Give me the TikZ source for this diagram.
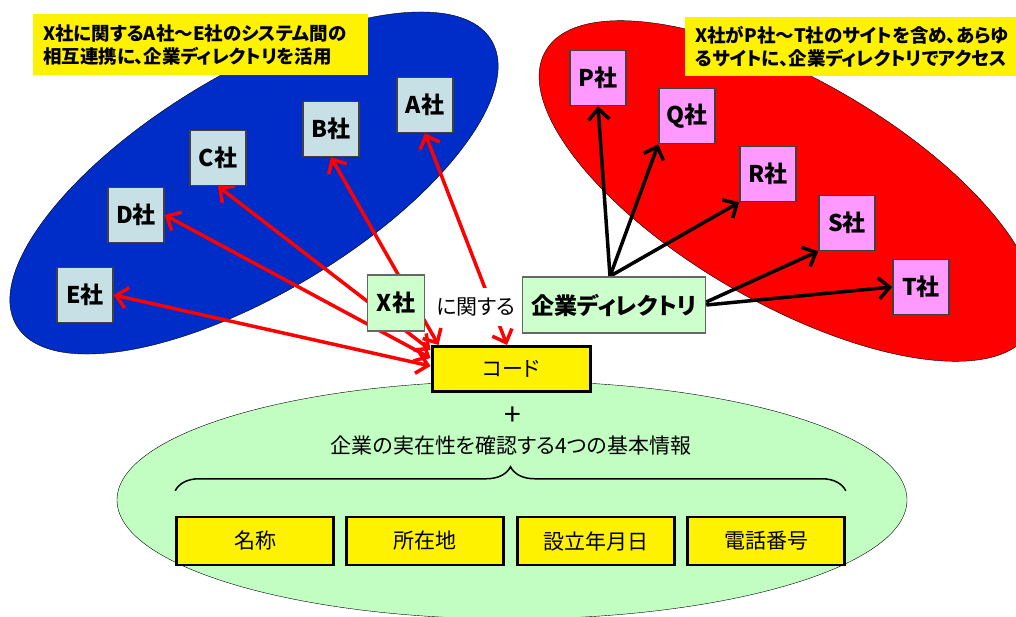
\documentclass[tikz,border=0pt]{standalone}
\usepackage{fontspec}
\setmainfont{Noto Sans CJK JP}[RawFeature=+palt]
\usepackage{tikz}
\usetikzlibrary{arrows.meta}
\usetikzlibrary{decorations.pathreplacing}
\definecolor{bluezone}{RGB}{0,45,200}
\definecolor{redzone}{RGB}{255,0,0}
\definecolor{greenzone}{RGB}{194,254,194}
\definecolor{firmblue}{RGB}{198,224,230}
\definecolor{firmpink}{RGB}{255,153,255}
\definecolor{palegreen}{RGB}{204,255,204}
\pgfdeclarelayer{back}
\pgfdeclarelayer{mid}
\pgfsetlayers{back,mid,main}
\tikzset{
  firmA/.style={draw=black!75, line width=1.5pt, fill=firmblue, minimum width=56pt, minimum height=55pt, inner sep=0pt, font=\fontsize{23}{25}\selectfont\bfseries},
  firmB/.style={firmA, fill=firmpink},
  hub/.style={draw=black!60, line width=1.5pt, fill=palegreen, minimum height=56pt, inner sep=0pt, font=\fontsize{23}{25}\selectfont\bfseries},
  memo/.style={fill=yellow, anchor=north west, align=left, inner xsep=10pt, inner ysep=0pt, font=\fontsize{18.5}{23}\selectfont\bfseries},
  field/.style={draw, line width=2.5pt, fill=yellow, minimum width=157pt, minimum height=48pt, inner sep=0pt, font=\fontsize{21}{23}\selectfont},
  redlink/.style={red, line width=3.5pt, <->},
  blacklink/.style={black, line width=3.5pt, ->},
  >={Straight Barb[length=11pt,width=21pt]}
}

\begin{document}
\begin{tikzpicture}[x=1pt,y=-1pt]
        \useasboundingbox (0,0) rectangle (1016,617);
        % zones
        \begin{pgfonlayer}{back}
        \draw[fill=bluezone, rotate around={31:(254,183)}] (254,183) ellipse [x radius=277pt, y radius=110pt];
        \draw[fill=redzone, rotate around={-30:(788,191)}] (788,191) ellipse [x radius=280pt, y radius=112pt];
        \draw[fill=greenzone] (512,500) ellipse [x radius=395pt, y radius=119pt];
        \end{pgfonlayer}

        % notes
        \node[memo, text width=315pt, minimum height=61pt] (memoL) at (33,14) {X社に関するA社～E社のシステム間の\\相互連携に、企業ディレクトリを活用};
        \node[memo, text width=330pt, minimum height=59pt] (memoR) at (685,17) {X社がP社～T社のサイトを含め、あらゆ\\るサイトに、企業ディレクトリでアクセス};

        % left group
        \node[firmA] (A) at (425,105) {A社};
        \node[firmA] (B) at (331,129) {B社};
        \node[firmA] (C) at (218,158) {C社};
        \node[firmA] (D) at (136,215) {D社};
        \node[firmA] (E) at (85,295) {E社};
        % right group
        \node[firmB] (P) at (598,78) {P社};
        \node[firmB] (Q) at (687,116) {Q社};
        \node[firmB] (R) at (768,174) {R社};
        \node[firmB] (S) at (847,223) {S社};
        \node[firmB] (T) at (921,287) {T社};

        % middle
        \node[hub, minimum width=57pt] (X) at (396,303) {X社};
        \node[fill=white, inner sep=3pt, minimum height=38pt, font=\fontsize{21}{23}\selectfont] (rel) at (476,307) {に関する};
        \node[hub, minimum width=183pt] (dir) at (614,305) {企業ディレクトリ};
        \node[field, line width=3pt, minimum width=158pt, minimum height=45pt] (code) at (511,369) {コード};

        % text
        \node[font=\fontsize{30}{30}\selectfont] (plus) at (513,416) {+};
        \node[font=\fontsize{21}{23}\selectfont] (info) at (511,446) {企業の実在性を確認する4つの基本情報};
        \node[field] (name) at (255,541) {名称};
        \node[field] (addr) at (425,541) {所在地};
        \node[field] (est) at (596,541) {設立年月日};
        \node[field] (tel) at (766,541) {電話番号};
        \draw[line width=1.5pt, decorate, decoration={brace, amplitude=24pt}] ([yshift=25pt]name.north west) -- ([yshift=25pt]tel.north east);

        % links
        \begin{pgfonlayer}{mid}
        \draw[redlink] ([xshift=-4pt]code.north) -- (A.south);
        \draw[redlink] ([xshift=8pt]code.north west) -- (B.south);
        \draw[redlink] ([yshift=-5pt]code.north west) -- (C.south);
        \draw[redlink] ([yshift=-13pt]code.north west) -- (D.east);
        \draw[redlink] ([yshift=-21pt]code.north west) -- (E.east);
        \draw[blacklink] ([xshift=-4pt]dir.north) -- (P.south);
        \draw[blacklink] ([xshift=-4pt]dir.north) -- (Q.south west);
        \draw[blacklink] ([xshift=-4pt]dir.north) -- (R.south west);
        \draw[blacklink] ([yshift=3pt]dir.east) -- (S.south west);
        \draw[blacklink] (dir.east) -- (T.west);
        \end{pgfonlayer}
\end{tikzpicture}
\end{document}
